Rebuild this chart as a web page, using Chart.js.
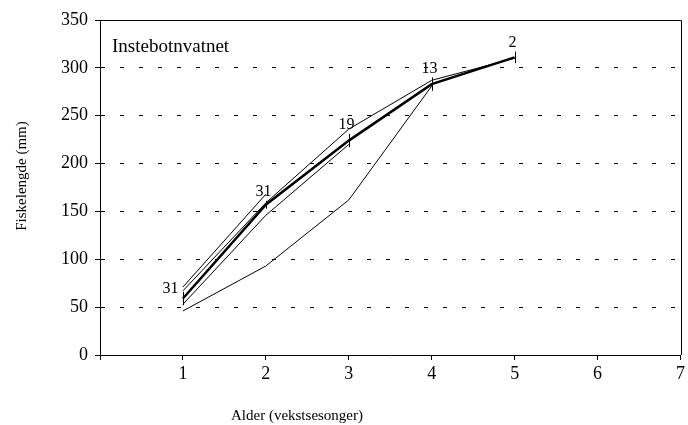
<!DOCTYPE html>
<html>
<head>
<meta charset="utf-8">
<script src="https://cdn.jsdelivr.net/npm/chart.js@4.4.1/dist/chart.umd.min.js"></script>
<style>
  html, body { margin: 0; padding: 0; background: #fff; }
  #wrap { width: 688px; height: 425px; }
</style>
</head>
<body>
<div id="wrap"><canvas id="growthChart" width="688" height="425"></canvas></div>
<script>
// Data
const ages = [1, 2, 3, 4, 5];
const meanLength = [59, 157, 224, 283, 311];
const meanSd = [7, 4, 7, 7, 6];
const nFish = [31, 31, 19, 13, 2];

// back-calculated lengths, one line per age group
const group2 = [71, 168];
const group3 = [53, 146, 220];
const group4 = [46, 93, 162, 281];
const group5 = [67, 159, 236, 287, 310];

const yTicks = [0, 50, 100, 150, 200, 250, 300, 350];
const xTicks = [1, 2, 3, 4, 5, 6, 7];

const lakeName = 'Instebotnvatnet';
const xTitle = 'Alder (vekstsesonger)';
const yTitle = 'Fiskelengde (mm)';

const serif = "'Liberation Serif', 'Times New Roman', serif";
Chart.defaults.font.family = serif;
Chart.defaults.color = '#000';

function toPoints(values) {
  return values.map((v, i) => ({ x: ages[i], y: v }));
}

function thinLine(values) {
  return {
    data: toPoints(values),
    borderColor: '#000',
    borderWidth: 1,
    pointRadius: 0,
    tension: 0,
    fill: false
  };
}

// Error bars, n labels, frame and titles
const extrasPlugin = {
  id: 'extras',
  afterDatasetsDraw(chart) {
    const ctx = chart.ctx;
    const xs = chart.scales.x;
    const ys = chart.scales.y;
    ctx.save();
    ctx.strokeStyle = '#000';
    ctx.lineWidth = 1;
    ctx.fillStyle = '#000';
    ctx.font = '16px ' + serif;
    meanLength.forEach((m, i) => {
      const px = Math.round(xs.getPixelForValue(ages[i])) + 0.5;
      const top = ys.getPixelForValue(m + meanSd[i]);
      const bot = ys.getPixelForValue(m - meanSd[i]);
      ctx.beginPath();
      ctx.moveTo(px, top);
      ctx.lineTo(px, bot);
      ctx.stroke();
      if (i === 0) {
        ctx.textAlign = 'right';
        ctx.textBaseline = 'middle';
        ctx.fillText(String(nFish[i]), px - 5, top - 3);
      } else {
        ctx.textAlign = 'center';
        ctx.textBaseline = 'bottom';
        ctx.fillText(String(nFish[i]), px - 3, top - 1);
      }
    });
    ctx.restore();
  },
  afterDraw(chart) {
    const ctx = chart.ctx;
    const a = chart.chartArea;
    ctx.save();
    ctx.strokeStyle = '#000';
    ctx.lineWidth = 1;
    ctx.beginPath();
    ctx.moveTo(a.left, Math.round(a.top) + 0.5);
    ctx.lineTo(Math.round(a.right) + 0.5, Math.round(a.top) + 0.5);
    ctx.lineTo(Math.round(a.right) + 0.5, a.bottom);
    ctx.stroke();

    ctx.fillStyle = '#000';
    ctx.font = '19px ' + serif;
    ctx.textAlign = 'left';
    ctx.textBaseline = 'middle';
    ctx.fillText(lakeName, a.left + 12, a.top + 27);

    ctx.font = '15px ' + serif;
    ctx.textAlign = 'center';
    ctx.fillText(xTitle, 297, 416);

    ctx.translate(22, 176);
    ctx.rotate(-Math.PI / 2);
    ctx.fillText(yTitle, 0, 0);
    ctx.restore();
  }
};

const ctx = document.getElementById('growthChart').getContext('2d');
const growthChart = new Chart(ctx, {
  type: 'line',
  data: {
    datasets: [
      thinLine(group2),
      thinLine(group3),
      thinLine(group4),
      thinLine(group5),
      {
        data: toPoints(meanLength),
        borderColor: '#000',
        borderWidth: 2.5,
        pointRadius: 0,
        tension: 0,
        fill: false
      }
    ]
  },
  options: {
    responsive: false,
    animation: false,
    layout: { padding: { top: 20, right: 4, left: 0, bottom: 0 } },
    plugins: {
      legend: { display: false },
      tooltip: { enabled: false }
    },
    scales: {
      x: {
        type: 'linear',
        min: 0,
        max: 7,
        afterFit: (scale) => { scale.height = 70; },
        afterBuildTicks: (scale) => {
          scale.ticks = [{ value: 0 }].concat(xTicks.map(v => ({ value: v })));
        },
        ticks: {
          font: { size: 18 },
          padding: 3,
          maxRotation: 0,
          callback: (v) => (v === 0 ? '' : v)
        },
        grid: {
          drawOnChartArea: false,
          drawTicks: true,
          tickLength: 5,
          color: '#000'
        },
        border: { color: '#000', width: 1 }
      },
      y: {
        min: 0,
        max: 350,
        afterFit: (scale) => { scale.width = 100; },
        afterBuildTicks: (scale) => {
          scale.ticks = yTicks.map(v => ({ value: v }));
        },
        ticks: {
          font: { size: 18 },
          padding: 7
        },
        grid: {
          color: '#000',
          lineWidth: 1,
          drawTicks: true,
          tickLength: 5,
          tickBorderDash: []
        },
        border: { color: '#000', width: 1, dash: [4, 15] }
      }
    }
  },
  plugins: [extrasPlugin]
});
</script>
</body>
</html>
